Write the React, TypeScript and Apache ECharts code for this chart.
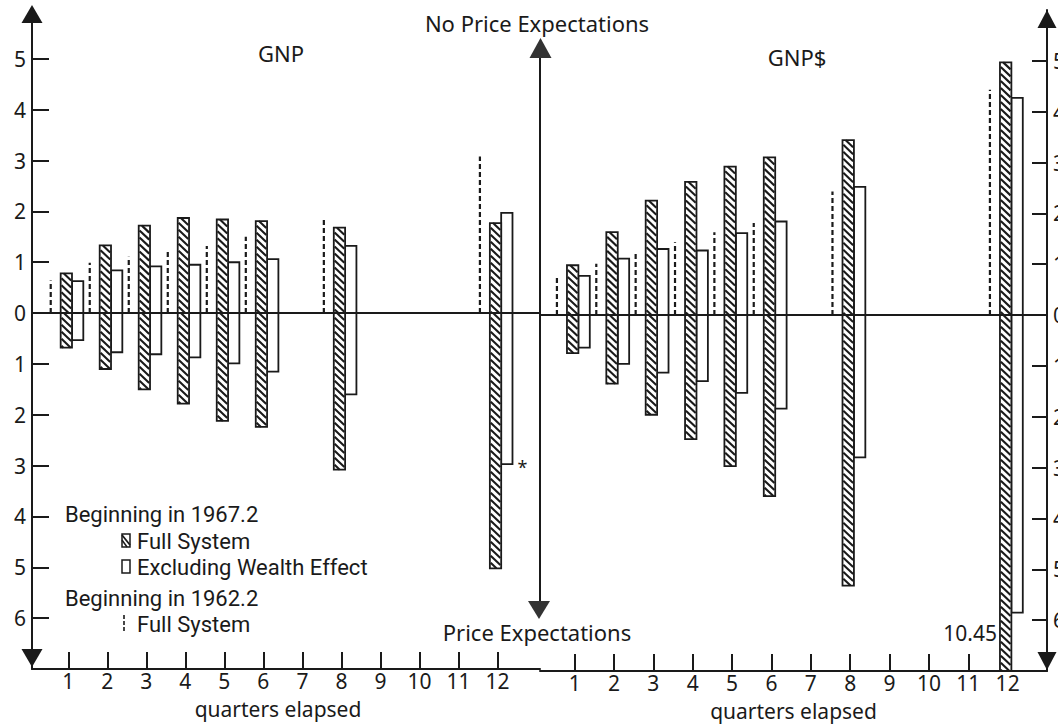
import React, { useEffect, useRef } from "react";
import * as echarts from "echarts";

// ---------------- data ----------------
const quarters = [1, 2, 3, 4, 5, 6, 8, 12];
const quarterTicks = [1, 2, 3, 4, 5, 6, 7, 8, 9, 10, 11, 12];
const valueTicks = [-6, -5, -4, -3, -2, -1, 0, 1, 2, 3, 4, 5];

// GNP — No Price Expectations (drawn upward)
const gnpFullNoPE = [0.78, 1.33, 1.72, 1.87, 1.84, 1.81, 1.68, 1.77];
const gnpExclNoPE = [0.63, 0.84, 0.92, 0.95, 1.0, 1.06, 1.32, 1.97];
const gnp1962NoPE = [0.64, 0.99, 1.11, 1.23, 1.32, 1.5, 1.87, 3.08];
// GNP — Price Expectations (drawn downward)
const gnpFullPE = [0.68, 1.1, 1.5, 1.78, 2.12, 2.24, 3.08, 5.02];
const gnpExclPE = [0.53, 0.77, 0.81, 0.87, 0.99, 1.15, 1.6, 2.97];
const gnpExclPENotes = ["", "", "", "", "", "", "", "*"];

// GNP$ — No Price Expectations
const gnpDFullNoPE = [0.98, 1.63, 2.25, 2.62, 2.92, 3.1, 3.44, 4.97];
const gnpDExclNoPE = [0.77, 1.11, 1.3, 1.27, 1.61, 1.84, 2.52, 4.27];
const gnpD1962NoPE = [0.75, 1.01, 1.24, 1.43, 1.63, 1.81, 2.43, 4.43];
// GNP$ — Price Expectations
const gnpDFullPE = [0.75, 1.35, 1.96, 2.44, 2.97, 3.56, 5.32, 10.45];
const gnpDExclPE = [0.64, 0.96, 1.13, 1.3, 1.53, 1.84, 2.8, 5.85];
const gnpDExclPENotes = ["", "", "", "", "", "", "", ""];

// ---------------- style ----------------
const FONT = "'Noto Sans', 'DejaVu Sans', sans-serif";
const LEGEND_FONT = "Roboto, 'Noto Sans', sans-serif";
const INK = "#1a1a1a";
const BAR_W = 0.29;
const HATCH_OFF = -0.05;
const WHITE_OFF = HATCH_OFF + BAR_W;
const DASH_OFF = -0.45;

const pairs = (ys: number[], sign: number) => quarters.map((q, i) => [q, sign * ys[i]]);

function barRenderer(offset: number, hatched: boolean, notes?: string[]) {
  return (params: any, api: any) => {
    const q = api.value(0);
    const v = api.value(1);
    const unit = api.size([1, 0])[0];
    const base = api.coord([q, 0]);
    const end = api.coord([q, v]);
    const cs = params.coordSys;
    const yEnd = Math.max(cs.y, Math.min(cs.y + cs.height, end[1]));
    const clipped = Math.abs(yEnd - end[1]) > 0.5;
    const w = unit * BAR_W;
    const x0 = base[0] + unit * offset - w / 2;
    const top = Math.min(base[1], yEnd);
    const bottom = Math.max(base[1], yEnd);
    const children: any[] = [
      {
        type: "rect",
        shape: { x: x0, y: top, width: w, height: bottom - top },
        style: { fill: "#fff", stroke: INK, lineWidth: 1.8 },
      },
    ];
    if (hatched) {
      const s = 7;
      const xa0 = x0 + 0.8;
      const xb0 = x0 + w - 0.8;
      const ww = xb0 - xa0;
      const d = ww * 0.95;
      for (let yy = top - d; yy < bottom; yy += s) {
        let xa = xa0, ya = yy, xb = xb0, yb = yy + d;
        if (ya < top) { xa = xa0 + ((top - yy) / d) * ww; ya = top; }
        if (yb > bottom) { xb = xa0 + ((bottom - yy) / d) * ww; yb = bottom; }
        if (xb - xa > 0.5) {
          children.push({
            type: "line",
            shape: { x1: xa, y1: ya, x2: xb, y2: yb },
            style: { stroke: INK, lineWidth: 2.1 },
          });
        }
      }
    }
    if (clipped) {
      children.push({
        type: "text",
        style: {
          text: String(Math.abs(v)), x: x0 - 3, y: yEnd - 38,
          align: "right", verticalAlign: "middle",
          textAlign: "right", textVerticalAlign: "middle",
          font: `21px ${FONT}`, fill: INK,
        },
      });
    }
    const note = notes ? notes[params.dataIndex] : "";
    if (note) {
      children.push({
        type: "text",
        style: {
          text: note, x: x0 + w + 5, y: yEnd + 3,
          align: "left", verticalAlign: "middle",
          textAlign: "left", textVerticalAlign: "middle",
          font: `18px ${FONT}`, fill: INK,
        },
      });
    }
    return { type: "group", children };
  };
}

function dashRenderer() {
  return (params: any, api: any) => {
    const q = api.value(0);
    const v = api.value(1);
    const unit = api.size([1, 0])[0];
    const base = api.coord([q, 0]);
    const end = api.coord([q, v]);
    const x = base[0] + unit * DASH_OFF;
    return {
      type: "line",
      shape: { x1: x, y1: base[1], x2: x, y2: end[1] },
      style: { stroke: INK, lineWidth: 2.2, lineDash: [5, 3] },
    };
  };
}

function panelSeries(
  idx: number,
  fullNoPE: number[], exclNoPE: number[], e1962NoPE: number[],
  fullPE: number[], exclPE: number[], exclNotes: string[]
) {
  const common = { type: "custom", xAxisIndex: idx, yAxisIndex: idx, encode: { x: 0, y: 1 }, silent: true, clip: true };
  return [
    {
      ...common,
      name: "Excluding Wealth Effect",
      data: [...pairs(exclNoPE, 1), ...pairs(exclPE, -1)],
      renderItem: barRenderer(WHITE_OFF, false, [...quarters.map(() => ""), ...exclNotes]),
      markLine: {
        silent: true, symbol: ["none", "none"], label: { show: false },
        lineStyle: { color: INK, width: 2, type: "solid" },
        data: [{ yAxis: 0 }],
      },
    },
    {
      ...common,
      name: "Full System (1967.2)",
      data: [...pairs(fullNoPE, 1), ...pairs(fullPE, -1)],
      renderItem: barRenderer(HATCH_OFF, true),
    },
    {
      ...common,
      name: "Full System (1962.2)",
      data: pairs(e1962NoPE, 1),
      renderItem: dashRenderer(),
    },
  ];
}

function xAxisFor(gridIndex: number, min: number, max: number, namePad: number[]) {
  return {
    gridIndex, type: "value", min, max,
    axisLine: { show: true, onZero: false, lineStyle: { color: INK, width: 2 } },
    axisTick: { show: true, inside: true, length: 17, customValues: quarterTicks, lineStyle: { color: INK, width: 2 } },
    axisLabel: { show: true, customValues: quarterTicks, color: INK, fontSize: 21, lineHeight: 18, fontFamily: FONT, margin: 3 },
    splitLine: { show: false },
    name: "quarters elapsed", nameLocation: "middle", nameGap: 30,
    nameTextStyle: { color: INK, fontSize: 21, lineHeight: 20, fontFamily: FONT, padding: namePad },
  };
}

function yAxisFor(gridIndex: number, position: string, symbolSize: number[], symbolOffset: number[], tickLen: number) {
  return {
    gridIndex, type: "value", min: -7, max: 6, interval: 1, position,
    axisLine: {
      show: true, onZero: false,
      lineStyle: { color: INK, width: 2 },
      symbol: ["triangle", "triangle"], symbolSize, symbolOffset,
    },
    axisTick: { show: true, inside: true, length: tickLen, customValues: valueTicks, lineStyle: { color: INK, width: 2 } },
    axisLabel: {
      show: true, customValues: valueTicks, color: INK, fontSize: 21, lineHeight: 20, fontFamily: FONT, margin: 6,
      formatter: (v: number) => String(Math.abs(v)),
    },
    splitLine: { show: false },
  };
}

const txt = (text: string, x: number, y: number, size: number, align = "center", family = FONT) => ({
  type: "text", silent: true,
  style: {
    text, x, y, font: `${size}px ${family}`, fill: INK, lineHeight: 20,
    align, verticalAlign: "middle", textAlign: align, textVerticalAlign: "middle",
  },
});

export default function App() {
  const ref = useRef<HTMLDivElement>(null);
  useEffect(() => {
    if (!ref.current) return;
    const chart = echarts.init(ref.current, null, { renderer: "svg" });
    const option: any = {
      animation: false,
      backgroundColor: "#ffffff",
      textStyle: { fontFamily: FONT },
      grid: [
        { left: 32, top: 8, width: 508, height: 661, containLabel: false, outerBoundsMode: "none" },
        { left: 540, top: 10, width: 507, height: 661, containLabel: false, outerBoundsMode: "none" },
      ],
      xAxis: [xAxisFor(0, 0.07, 13.09, [0, 16, 0, 0]), xAxisFor(1, 0.12, 13.0, [0, 0, 0, 0])],
      yAxis: [
        yAxisFor(0, "left", [21, 18], [11, -6], 17),
        yAxisFor(1, "right", [19, 18], [10, -9], 15),
      ],
      series: [
        ...panelSeries(0, gnpFullNoPE, gnpExclNoPE, gnp1962NoPE, gnpFullPE, gnpExclPE, gnpExclPENotes),
        ...panelSeries(1, gnpDFullNoPE, gnpDExclNoPE, gnpD1962NoPE, gnpDFullPE, gnpDExclPE, gnpDExclPENotes),
      ],
      graphic: [
        txt("No Price Expectations", 537, 23, 22),
        txt("Price Expectations", 537, 632, 22),
        txt("GNP", 281, 53, 22),
        txt("GNP$", 797, 57, 22),
        // middle double arrow
        { type: "line", silent: true, shape: { x1: 540, y1: 55, x2: 540, y2: 605 }, style: { stroke: INK, lineWidth: 2 } },
        { type: "polygon", silent: true, shape: { points: [[529.5, 58], [551.5, 58], [540.5, 38]] }, style: { fill: "#333" } },
        { type: "polygon", silent: true, shape: { points: [[528, 601], [550, 601], [539, 619]] }, style: { fill: "#333" } },
        // legend
        txt("Beginning in 1967.2", 65, 514, 22, "left", LEGEND_FONT),
        { type: "rect", silent: true, shape: { x: 122, y: 534, width: 8, height: 13 }, style: { fill: "#fff", stroke: INK, lineWidth: 1.5 } },
        { type: "line", silent: true, shape: { x1: 122, y1: 535, x2: 130, y2: 545 }, style: { stroke: INK, lineWidth: 1.8 } },
        { type: "line", silent: true, shape: { x1: 122, y1: 540, x2: 127, y2: 547 }, style: { stroke: INK, lineWidth: 1.5 } },
        txt("Full System", 137, 541, 22, "left", LEGEND_FONT),
        { type: "rect", silent: true, shape: { x: 122, y: 560, width: 8, height: 13 }, style: { fill: "#fff", stroke: INK, lineWidth: 1.5 } },
        txt("Excluding Wealth Effect", 137, 567, 22, "left", LEGEND_FONT),
        txt("Beginning in 1962.2", 65, 598, 22, "left", LEGEND_FONT),
        { type: "line", silent: true, shape: { x1: 124, y1: 615, x2: 124, y2: 632 }, style: { stroke: INK, lineWidth: 1.6, lineDash: [4, 2] } },
        txt("Full System", 137, 624, 22, "left", LEGEND_FONT),
      ],
    };
    chart.setOption(option);
    return () => chart.dispose();
  }, []);
  return (
    <div
      ref={ref}
      style={{ position: "fixed", left: 0, top: 0, width: 1058, height: 726, background: "#fff" }}
    />
  );
}
